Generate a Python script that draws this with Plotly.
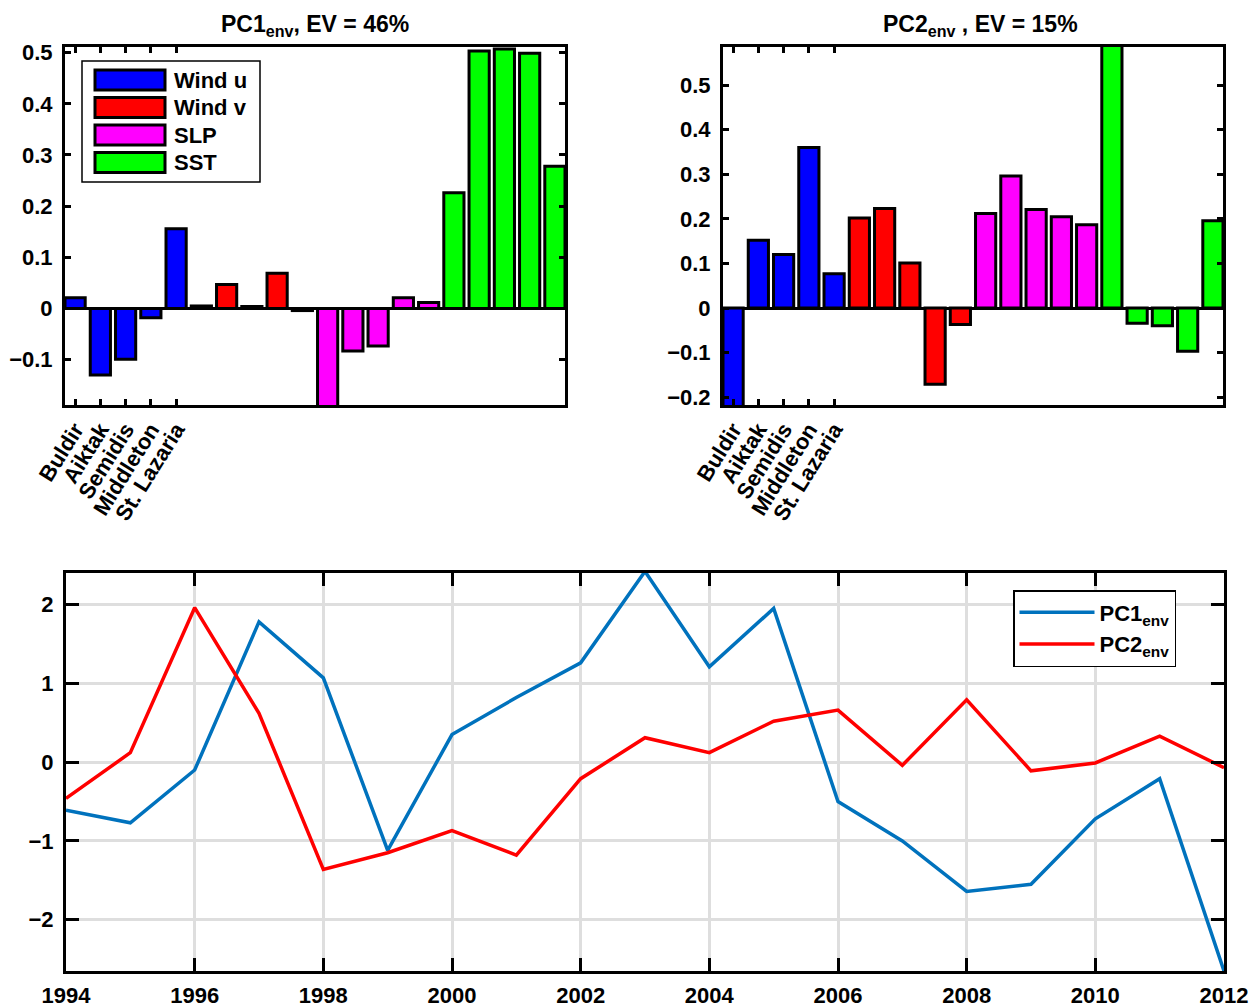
import plotly.graph_objects as go

# ---------------- data ----------------
stations = ["Buldir", "Aiktak", "Semidis", "Middleton", "St. Lazaria"]
variables = ["Wind u", "Wind v", "SLP", "SST"]

pc1_wind_u = [0.021, -0.130, -0.099, -0.018, 0.156]
pc1_wind_v = [0.005, 0.047, 0.004, 0.069, -0.004]
pc1_slp = [-0.195, -0.083, -0.073, 0.021, 0.012]
pc1_sst = [0.226, 0.503, 0.507, 0.499, 0.278]

pc2_wind_u = [-0.230, 0.152, 0.120, 0.360, 0.077]
pc2_wind_v = [0.202, 0.223, 0.101, -0.171, -0.037]
pc2_slp = [0.212, 0.296, 0.221, 0.205, 0.187]
pc2_sst = [0.600, -0.034, -0.040, -0.097, 0.196]

years = list(range(1994, 2013))
pc1_env = [-0.61, -0.77, -0.10, 1.78, 1.07, -1.12, 0.35, 0.82, 1.26, 2.42,
           1.21, 1.95, -0.50, -1.00, -1.64, -1.55, -0.72, -0.21, -2.65]
pc2_env = [-0.46, 0.12, 1.96, 0.62, -1.36, -1.15, -0.87, -1.18, -0.21, 0.31,
           0.12, 0.52, 0.66, -0.04, 0.79, -0.11, -0.01, 0.33, -0.07]

pc1_loadings = [pc1_wind_u, pc1_wind_v, pc1_slp, pc1_sst]
pc2_loadings = [pc2_wind_u, pc2_wind_v, pc2_slp, pc2_sst]

# ---------------- style ----------------
OFF = 8                      # default page body margin
W, H = 1260 - OFF, 1007 - OFF
bar_colors = ["#0000FF", "#FF0000", "#FF00FF", "#00FF00"]
FONT = "Liberation Sans, Arial, Helvetica, sans-serif"
FS = 22


def fx(p):
    return (p - OFF) / W


def fy(p):
    return 1 - (p - OFF) / H


fig = go.Figure()

n_st = len(stations)
for sub, loads in (("", pc1_loadings), ("2", pc2_loadings)):
    for gi, (var, vals) in enumerate(zip(variables, loads)):
        xs = [gi * n_st + i + 1 for i in range(n_st)]
        fig.add_trace(go.Bar(
            x=xs, y=vals, name=var, width=0.8,
            marker=dict(color=bar_colors[gi], line=dict(color="black", width=3)),
            xaxis="x" + sub, yaxis="y" + sub, showlegend=False,
        ))

fig.add_trace(go.Scatter(x=years, y=pc1_env, mode="lines", name="PC1<sub>env</sub>",
                         line=dict(color="#0072BD", width=3.5),
                         xaxis="x3", yaxis="y3"))
fig.add_trace(go.Scatter(x=years, y=pc2_env, mode="lines", name="PC2<sub>env</sub>",
                         line=dict(color="#FF0000", width=3.5),
                         xaxis="x3", yaxis="y3"))

tickfont = dict(family=FONT, size=FS, color="black", weight="bold")

common_bar_x = dict(
    range=[0.6, 20.4], tickmode="array", tickvals=list(range(1, n_st + 1)),
    ticktext=stations, tickangle=-58, ticks="inside", ticklen=6, tickwidth=3,
    tickcolor="black", showline=True, linewidth=3, linecolor="black",
    mirror="ticks", showgrid=False, zeroline=False, tickfont=tickfont,
    automargin=False,
)
common_bar_y = dict(
    dtick=0.1, ticks="inside", ticklen=6, tickwidth=3, tickcolor="black",
    showline=True, linewidth=3, linecolor="black", mirror="ticks",
    showgrid=False, zeroline=True, zerolinecolor="black", zerolinewidth=3,
    tickfont=tickfont, automargin=False, ticklabelstandoff=5,
)

fig.update_layout(
    width=W, height=H,
    margin=dict(l=0, r=0, t=0, b=0),
    paper_bgcolor="white", plot_bgcolor="white",
    barmode="overlay",
    font=dict(family=FONT, color="black"),
    xaxis=dict(domain=[fx(65), fx(565)], anchor="y", **common_bar_x),
    yaxis=dict(domain=[fy(405), fy(47)], anchor="x", range=[-0.1885, 0.511], **common_bar_y),
    xaxis2=dict(domain=[fx(723), fx(1223)], anchor="y2", **common_bar_x),
    yaxis2=dict(domain=[fy(405), fy(47)], anchor="x2", range=[-0.2175, 0.5855], **common_bar_y),
    xaxis3=dict(domain=[fx(66), fx(1224)], anchor="y3", range=[1994, 2012], dtick=2,
                ticks="inside", ticklen=13, tickwidth=3, tickcolor="black",
                showline=True, linewidth=3, linecolor="black", mirror="ticks",
                showgrid=True, gridcolor="#dedede", gridwidth=2.5, zeroline=False,
                tickfont=tickfont, automargin=False, ticklabelstandoff=3),
    yaxis3=dict(domain=[fy(971), fy(573)], anchor="x3", range=[-2.65, 2.4], dtick=1,
                ticks="inside", ticklen=13, tickwidth=3, tickcolor="black",
                showline=True, linewidth=3, linecolor="black", mirror="ticks",
                showgrid=True, gridcolor="#dedede", gridwidth=2.5, zeroline=False,
                tickfont=tickfont, automargin=False, ticklabelstandoff=5),
    legend=dict(x=fx(1013), y=fy(590), xanchor="left", yanchor="top",
                bgcolor="white", bordercolor="black", borderwidth=1.5,
                font=dict(family=FONT, size=FS, color="black", weight="bold"),
                itemwidth=75, tracegroupgap=0),
    showlegend=True,
)

# titles
TFS = 23
fig.add_annotation(text="PC1<sub>env</sub>, EV = 46%", x=fx(315), y=fy(9),
                   xref="paper", yref="paper", showarrow=False, xanchor="center", yanchor="top",
                   font=dict(family=FONT, size=TFS, color="black", weight="bold"))
fig.add_annotation(text="PC2<sub>env</sub> , EV = 15%", x=fx(980), y=fy(9),
                   xref="paper", yref="paper", showarrow=False, xanchor="center", yanchor="top",
                   font=dict(family=FONT, size=TFS, color="black", weight="bold"))

# manual bar legend (top-left)
fig.add_shape(type="rect", xref="paper", yref="paper", x0=fx(82), x1=fx(260), y0=fy(182), y1=fy(61),
              line=dict(color="black", width=1.5), fillcolor="white", layer="above")
for i, (var, col) in enumerate(zip(variables, bar_colors)):
    cy = 80 + i * 27.5
    fig.add_shape(type="rect", xref="paper", yref="paper", x0=fx(95), x1=fx(165),
                  y0=fy(cy + 10), y1=fy(cy - 10), line=dict(color="black", width=3),
                  fillcolor=col, layer="above")
    fig.add_annotation(text=var, x=fx(172), y=fy(cy), xref="paper", yref="paper",
                       showarrow=False, xanchor="left", yanchor="middle",
                       font=dict(family=FONT, size=FS, color="black", weight="bold"))

fig.write_html("out.html")
